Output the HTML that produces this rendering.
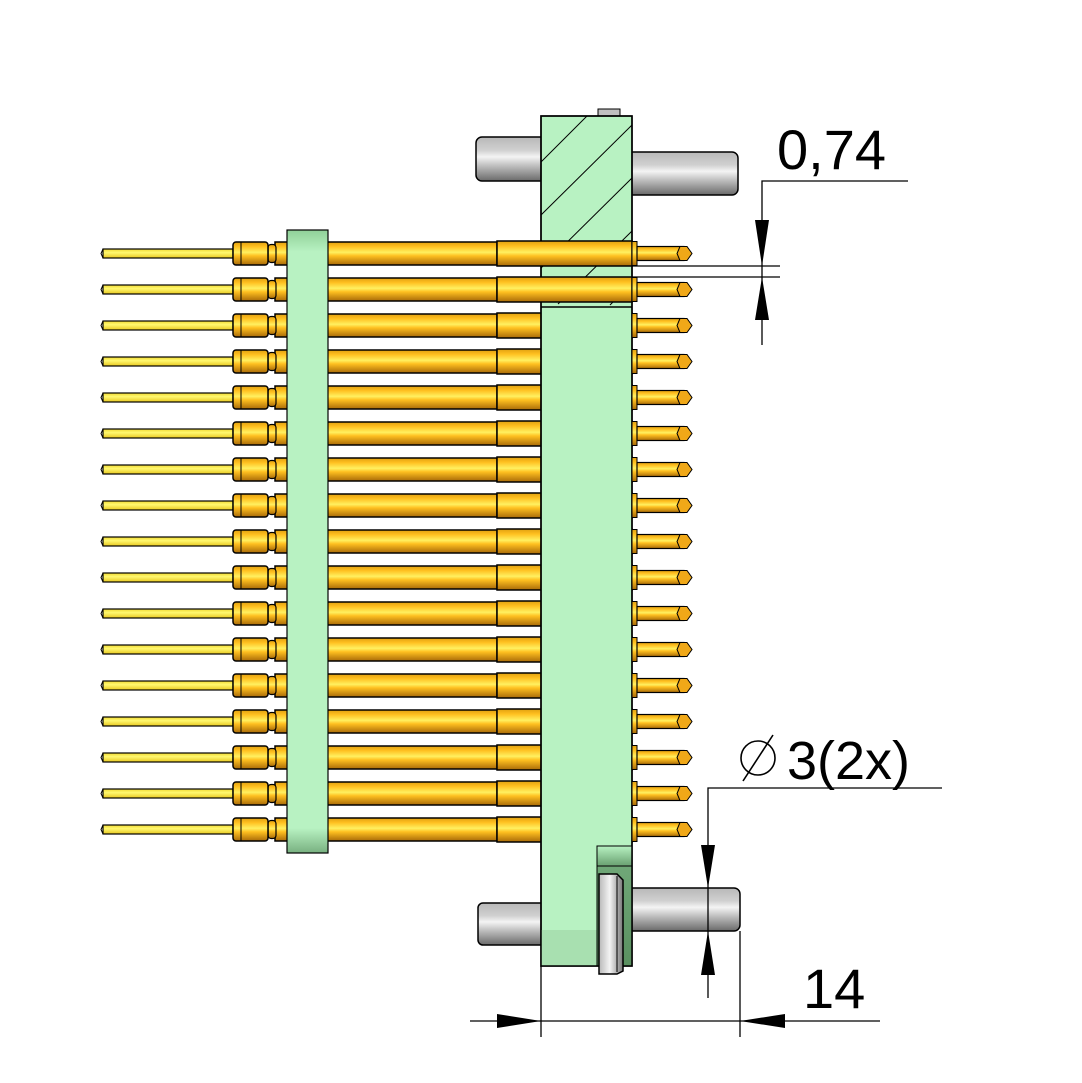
<!DOCTYPE html>
<html><head><meta charset="utf-8"><style>
html,body{margin:0;padding:0;background:#fff}
svg{display:block}
text{font-family:"Liberation Sans",sans-serif;fill:#000}
</style></head><body>
<svg width="1082" height="1083" viewBox="0 0 1082 1083" xmlns="http://www.w3.org/2000/svg">
<defs>
<linearGradient id="gold" x1="0" y1="0" x2="0" y2="1">
<stop offset="0" stop-color="#e0a010"/><stop offset="0.2" stop-color="#ffc020"/><stop offset="0.45" stop-color="#fff060"/><stop offset="0.6" stop-color="#ffc020"/><stop offset="1" stop-color="#a86a08"/>
</linearGradient>
<linearGradient id="yel" x1="0" y1="0" x2="0" y2="1">
<stop offset="0" stop-color="#f0d830"/><stop offset="0.4" stop-color="#fff870"/><stop offset="1" stop-color="#e8c820"/>
</linearGradient>
<linearGradient id="steel" x1="0" y1="0" x2="0" y2="1">
<stop offset="0" stop-color="#b8b8b8"/><stop offset="0.3" stop-color="#d0d0d0"/><stop offset="0.45" stop-color="#f4f4f4"/><stop offset="0.65" stop-color="#c0c0c0"/><stop offset="1" stop-color="#6a6a6a"/>
</linearGradient>
<linearGradient id="steelh" x1="0" y1="0" x2="1" y2="0">
<stop offset="0" stop-color="#b8b8b8"/><stop offset="0.45" stop-color="#f4f4f4"/><stop offset="1" stop-color="#777"/>
</linearGradient>
<linearGradient id="plate" x1="0" y1="0" x2="0" y2="1">
<stop offset="0" stop-color="#90d098"/><stop offset="0.035" stop-color="#b8f2c2"/><stop offset="0.96" stop-color="#b8f2c2"/><stop offset="1" stop-color="#78b080"/>
</linearGradient>
<linearGradient id="dark" x1="0" y1="0" x2="0" y2="1">
<stop offset="0" stop-color="#b8f2c2"/><stop offset="0.15" stop-color="#70a878"/><stop offset="1" stop-color="#5a9060"/>
</linearGradient>
<g id="pinL">
<rect x="103" y="-4.5" width="130" height="9" fill="url(#yel)" stroke="#000" stroke-width="1.2"/>
<path d="M103,-4.5 L101,0 L103,4.5" fill="none" stroke="#000"/>
<rect x="275" y="-11.5" width="222" height="23" fill="url(#gold)" stroke="#000" stroke-width="1.5"/>
<rect x="268" y="-9" width="8" height="18" rx="3" fill="url(#gold)" stroke="#000" stroke-width="1.2"/>
<rect x="233" y="-11.5" width="35" height="23" rx="3" fill="url(#gold)" stroke="#000" stroke-width="1.5"/>
<line x1="241" y1="-11.5" x2="241" y2="11.5" stroke="#000"/>
</g>
<g id="barrel">
<rect x="497" y="-12.5" width="135" height="25" fill="url(#gold)" stroke="#000" stroke-width="1.5"/>
</g>
<g id="tip">
<rect x="632" y="-12" width="5" height="24" fill="url(#gold)" stroke="#000"/>
<rect x="637" y="-7" width="47" height="14" fill="url(#gold)" stroke="#000" stroke-width="1.2"/>
<path d="M680,-7 L687,-7 L692,0 L687,7 L680,7 L677,0 Z" fill="#f0a818" stroke="#000"/>
</g>
</defs>

<!-- top pins -->
<rect x="476" y="137" width="70" height="44" rx="6" fill="url(#steel)" stroke="#000" stroke-width="1.5"/>
<rect x="625" y="152" width="113" height="43" rx="6" fill="url(#steel)" stroke="#000" stroke-width="1.5"/>
<rect x="598" y="109" width="22" height="9" fill="#c0c0c0" stroke="#000"/>

<!-- bottom pins -->
<rect x="478" y="903" width="70" height="42" rx="5" fill="url(#steel)" stroke="#000" stroke-width="1.5"/>
<rect x="625" y="888" width="115" height="43" rx="6" fill="url(#steel)" stroke="#000" stroke-width="1.5"/>

<!-- left pins and barrels rows 3..17 (under block) -->
<g id="rows">
<use href="#pinL" y="253.5"/><use href="#pinL" y="289.5"/>
<use href="#pinL" y="325.5"/><use href="#pinL" y="361.5"/><use href="#pinL" y="397.5"/><use href="#pinL" y="433.5"/>
<use href="#pinL" y="469.5"/><use href="#pinL" y="505.5"/><use href="#pinL" y="541.5"/><use href="#pinL" y="577.5"/>
<use href="#pinL" y="613.5"/><use href="#pinL" y="649.5"/><use href="#pinL" y="685.5"/><use href="#pinL" y="721.5"/>
<use href="#pinL" y="757.5"/><use href="#pinL" y="793.5"/><use href="#pinL" y="829.5"/>
</g>
<use href="#barrel" y="325.5"/><use href="#barrel" y="361.5"/><use href="#barrel" y="397.5"/><use href="#barrel" y="433.5"/>
<use href="#barrel" y="469.5"/><use href="#barrel" y="505.5"/><use href="#barrel" y="541.5"/><use href="#barrel" y="577.5"/>
<use href="#barrel" y="613.5"/><use href="#barrel" y="649.5"/><use href="#barrel" y="685.5"/><use href="#barrel" y="721.5"/>
<use href="#barrel" y="757.5"/><use href="#barrel" y="793.5"/><use href="#barrel" y="829.5"/>

<!-- left plate -->
<rect x="287" y="230" width="41" height="623" fill="url(#plate)" stroke="#000" stroke-width="1.2"/>

<!-- main block -->
<rect x="541" y="116" width="91" height="850" fill="#b8f2c2" stroke="#000" stroke-width="1.5"/>
<rect x="541" y="930" width="91" height="36" fill="#a8e0b0"/>
<rect x="597" y="846" width="35" height="120" fill="url(#dark)" stroke="#000" stroke-width="1"/>
<line x1="597" y1="866" x2="632" y2="866" stroke="#000"/>
<rect x="541" y="116" width="91" height="850" fill="none" stroke="#000" stroke-width="1.5"/>
<!-- hatch -->
<g stroke="#000" stroke-width="1">
<line x1="541" y1="162" x2="587" y2="116"/>
<line x1="541" y1="215" x2="632" y2="125"/>
<line x1="541" y1="268" x2="632" y2="178"/>
<line x1="558" y1="304" x2="632" y2="231"/>
<line x1="610" y1="305" x2="632" y2="283"/>
</g>
<line x1="541" y1="307" x2="632" y2="307" stroke="#000" stroke-width="1.5"/>
<!-- washer -->
<path d="M599,874 L617,874 L623,880 L623,971 L617,974 L599,974 Z" fill="url(#steelh)" stroke="#000" stroke-width="1.5"/>
<line x1="617" y1="876" x2="617" y2="972" stroke="#000"/>

<!-- top two barrels over block -->
<use href="#barrel" y="253.5"/><use href="#barrel" y="289.5"/>

<!-- tips -->
<use href="#tip" y="253.5"/><use href="#tip" y="289.5"/><use href="#tip" y="325.5"/><use href="#tip" y="361.5"/>
<use href="#tip" y="397.5"/><use href="#tip" y="433.5"/><use href="#tip" y="469.5"/><use href="#tip" y="505.5"/>
<use href="#tip" y="541.5"/><use href="#tip" y="577.5"/><use href="#tip" y="613.5"/><use href="#tip" y="649.5"/>
<use href="#tip" y="685.5"/><use href="#tip" y="721.5"/><use href="#tip" y="757.5"/><use href="#tip" y="793.5"/>
<use href="#tip" y="829.5"/>

<!-- dimension 0,74 -->
<g stroke="#000" stroke-width="1.3" fill="none">
<polyline points="908,181 762,181 762,345"/>
<line x1="632" y1="266" x2="780" y2="266"/>
<line x1="632" y1="277" x2="780" y2="277"/>
</g>
<path d="M755,220 L769,220 L762,266 Z" fill="#000"/>
<path d="M755,320 L769,320 L762,277 Z" fill="#000"/>
<text x="777" y="169" font-size="56">0,74</text>

<!-- dimension Ø3(2x) -->
<g stroke="#000" stroke-width="1.3" fill="none">
<polyline points="942,788 708,788 708,998"/>
</g>
<path d="M701,845 L715,845 L708,888 Z" fill="#000"/>
<path d="M701,975 L715,975 L708,931 Z" fill="#000"/>
<g stroke="#000" stroke-width="1.6" fill="none">
<circle cx="758" cy="758" r="17"/>
<line x1="743" y1="781" x2="773" y2="735"/>
</g>
<text x="787" y="779" font-size="54">3(2x)</text>

<!-- dimension 14 -->
<g stroke="#000" stroke-width="1.3" fill="none">
<line x1="470" y1="1021" x2="880" y2="1021"/>
<line x1="541" y1="966" x2="541" y2="1037"/>
<line x1="740" y1="931" x2="740" y2="1037"/>
</g>
<path d="M497,1014 L497,1028 L541,1021 Z" fill="#000"/>
<path d="M785,1014 L785,1028 L740,1021 Z" fill="#000"/>
<text x="803" y="1008" font-size="56">14</text>
</svg>
</body></html>
